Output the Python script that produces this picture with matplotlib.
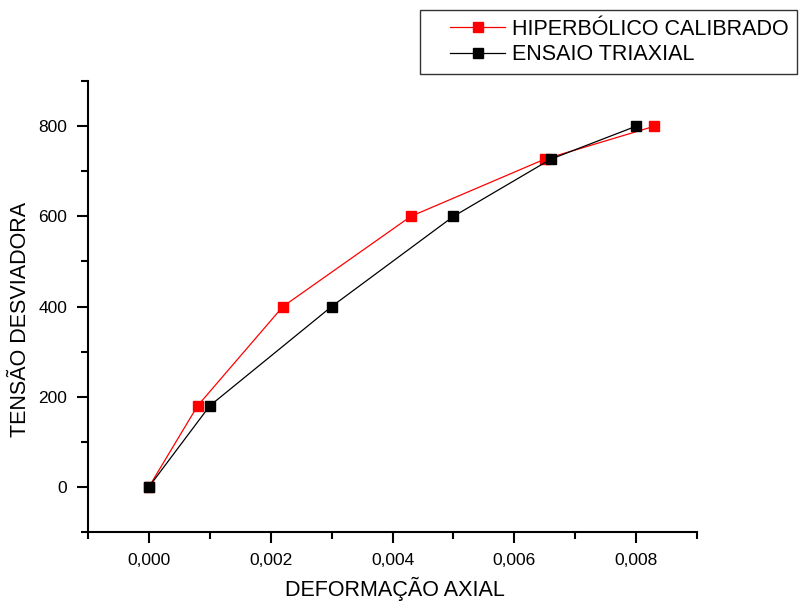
import matplotlib
matplotlib.use("Agg")
import matplotlib.pyplot as plt
from matplotlib.ticker import MultipleLocator, FuncFormatter
from matplotlib.legend_handler import HandlerLine2D

plt.rcParams['font.family'] = ['Liberation Sans', 'DejaVu Sans']

# valores
def_hiper = [0.0, 0.0008, 0.0022, 0.0043, 0.0065, 0.0083]
tens_hiper = [0, 180, 400, 600, 727, 800]
def_ensaio = [0.0, 0.0010, 0.0030, 0.0050, 0.0066, 0.0080]
tens_ensaio = [0, 180, 400, 600, 727, 800]

fig = plt.figure(figsize=(8.03, 6.01), dpi=100)
ax = fig.add_axes([0.1096, 0.1148, 0.7584, 0.7502])

l1, = ax.plot(def_hiper, tens_hiper, color='red', lw=0.9, marker='s', ms=7,
              mec='red', mfc='red', label='HIPERBÓLICO CALIBRADO', zorder=3)
l2, = ax.plot(def_ensaio, tens_ensaio, color='black', lw=0.9, marker='s', ms=7,
              mec='black', mfc='black', label='ENSAIO TRIAXIAL', zorder=4)

ax.set_xlim(-0.001, 0.009)
ax.set_ylim(-100, 900)
ax.xaxis.set_major_locator(MultipleLocator(0.002))
ax.xaxis.set_minor_locator(MultipleLocator(0.001))
ax.yaxis.set_major_locator(MultipleLocator(200))
ax.yaxis.set_minor_locator(MultipleLocator(100))
ax.xaxis.set_major_formatter(FuncFormatter(lambda v, p: ('%.3f' % v).replace('.', ',')))
ax.set_xticks([0, 0.002, 0.004, 0.006, 0.008])
ax.set_yticks([0, 200, 400, 600, 800])

for s in ['top', 'right']:
    ax.spines[s].set_visible(False)
for s in ['left', 'bottom']:
    ax.spines[s].set_linewidth(1.5)

ax.tick_params(which='major', direction='out', length=8, width=1.5, labelsize=12.5, pad=7)
ax.tick_params(which='minor', direction='out', length=5, width=1.5)

# rotulos dos eixos
fig.text(395 / 803, 1 - 589 / 601, 'DEFORMAÇÃO AXIAL', fontsize=15.5,
         ha='center', va='center')
fig.text(21 / 803, 1 - 319 / 601, 'TENSÃO DESVIADORA', fontsize=15.5,
         ha='center', va='center', rotation=90)

hm = {l1: HandlerLine2D(xpad=1.0), l2: HandlerLine2D(xpad=1.0)}
leg = fig.legend(handles=[l1, l2], loc='upper left', bbox_to_anchor=(420 / 803, 1 - 10 / 601),
                 fontsize=15.5, frameon=True, fancybox=False, handlelength=3.55,
                 borderpad=0.4, labelspacing=0.22, handletextpad=0.33, borderaxespad=0,
                 handler_map=hm)
leg.get_frame().set_edgecolor('black')
leg.get_frame().set_linewidth(1.0)

fig.savefig('out.png', dpi=100)
